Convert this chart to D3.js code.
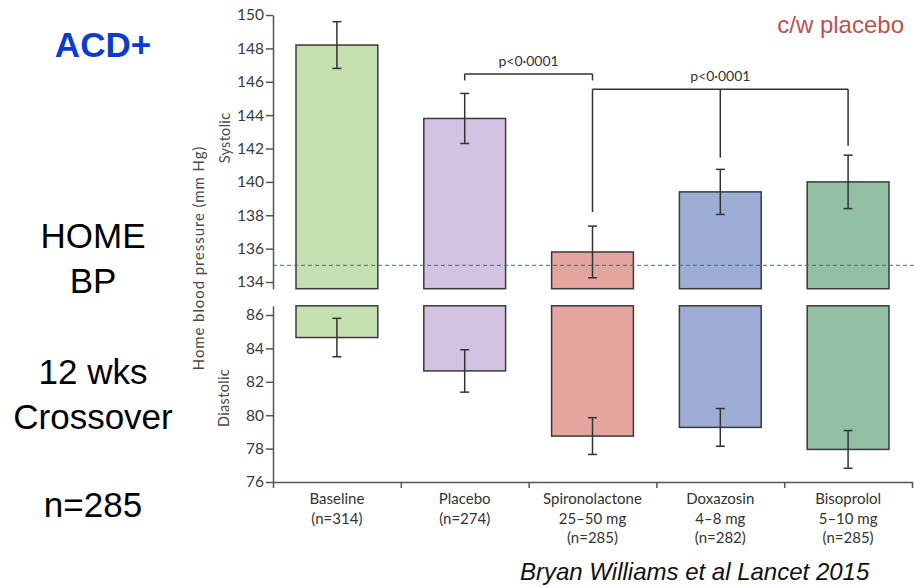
<!DOCTYPE html>
<html>
<head>
<meta charset="utf-8">
<script src="https://cdn.jsdelivr.net/npm/d3@7"></script>
<style>
  body { margin:0; background:#fff; }
  svg { display:block; }
  .axis path, .axis line { stroke:#555; stroke-width:1.5; }
  .axis text { font-family:Lato, sans-serif; font-size:15.5px; fill:#3a3a3a; }
</style>
</head>
<body>
<div id="chart"></div>
<script>
const categories = ["Baseline","Placebo","Spironolactone","Doxazosin","Bisoprolol"];
const catLabels = [
  ["Baseline","(n=314)"],
  ["Placebo","(n=274)"],
  ["Spironolactone","25–50 mg","(n=285)"],
  ["Doxazosin","4–8 mg","(n=282)"],
  ["Bisoprolol","5–10 mg","(n=285)"]
];
const systolic     = [148.2, 143.8, 135.8, 139.4, 140.0];
const systolicErr  = [1.4, 1.5, 1.55, 1.35, 1.6];
const diastolic    = [84.65, 82.65, 78.75, 79.27, 77.95];
const diastolicErr = [1.15, 1.27, 1.1, 1.13, 1.13];
const systolicTicks  = [134,136,138,140,142,144,146,148,150];
const diastolicTicks = [76,78,80,82,84,86];
const targetLine = 135;
const barColors = ["#c6dfb1","#d3c2e2","#e3a59d","#9dadd6","#93c0a5"];
// brackets: legs at categories, horizontal level and leg ends in mmHg (systolic)
const brackets = [
  {label:"p<0·0001", legs:["Placebo","Spironolactone"], level:146.47, ends:[146.08,146.08], labelAt:null},
  {label:"p<0·0001", legs:["Spironolactone","Doxazosin","Bisoprolol"], level:145.55, ends:[138.2,141.45,142.17], labelAt:"Doxazosin"}
];
const sideNotes = [
  {text:"HOME", y:248}, {text:"BP", y:293},
  {text:"12 wks", y:384}, {text:"Crossover", y:429},
  {text:"n=285", y:517}
];

const W = 914, H = 587;
const svg = d3.select("#chart").append("svg")
  .attr("width",W).attr("height",H);

const x = d3.scaleBand().domain(categories).range([273,912])
  .paddingInner(0.36).paddingOuter(0.18);
const xEdges = d3.scaleLinear().domain([0,categories.length]).range([273,912]);
const ySys = d3.scaleLinear().domain([133.6,150]).range([288.7,15]);
const yDia = d3.scaleLinear().domain([76,86.55]).range([482,305.8]);
const cx = c => x(c) + x.bandwidth()/2;

// axes
svg.append("g").attr("class","axis")
  .attr("transform","translate(273,0)")
  .call(d3.axisLeft(ySys).tickValues(systolicTicks).tickSize(7).tickSizeOuter(0).tickPadding(2));
svg.append("g").attr("class","axis")
  .attr("transform","translate(273,0)")
  .call(d3.axisLeft(yDia).tickValues(diastolicTicks).tickSize(7).tickSizeOuter(0).tickPadding(2));
svg.append("g").attr("class","axis")
  .attr("transform","translate(0,482)")
  .call(d3.axisBottom(xEdges).ticks(categories.length).tickSize(6).tickSizeOuter(0).tickFormat(""));

// category labels
const cl = svg.append("g").selectAll("text").data(categories).join("text")
  .attr("x",d=>cx(d)).attr("y",504)
  .attr("text-anchor","middle")
  .style("font-family","Lato, sans-serif").style("font-size","15px").style("fill","#333");
cl.each(function(d,i){
  d3.select(this).selectAll("tspan").data(catLabels[i]).join("tspan")
    .attr("x",cx(d)).attr("dy",(t,j)=>j===0?0:19.5).text(t=>t);
});

// systolic bars
svg.append("g").selectAll("rect").data(categories).join("rect")
  .attr("x",d=>x(d)).attr("width",x.bandwidth())
  .attr("y",(d,i)=>ySys(systolic[i]))
  .attr("height",(d,i)=>ySys.range()[0]-ySys(systolic[i]))
  .attr("fill",(d,i)=>barColors[i]).attr("stroke","#3a3a3a").attr("stroke-width",1.5);

// diastolic bars (hanging from top of lower panel)
svg.append("g").selectAll("rect").data(categories).join("rect")
  .attr("x",d=>x(d)).attr("width",x.bandwidth())
  .attr("y",yDia.range()[1])
  .attr("height",(d,i)=>yDia(diastolic[i])-yDia.range()[1])
  .attr("fill",(d,i)=>barColors[i]).attr("stroke","#3a3a3a").attr("stroke-width",1.5);

// target line
svg.append("line")
  .attr("x1",273).attr("x2",W)
  .attr("y1",ySys(targetLine)).attr("y2",ySys(targetLine))
  .attr("stroke","#3f7373").attr("stroke-width",1).attr("stroke-dasharray","4,3");

// error bars
function errorBars(vals, errs, y){
  const g = svg.append("g").attr("stroke","#333").attr("stroke-width",1.5);
  categories.forEach((c,i)=>{
    const hi = y(vals[i]+errs[i]), lo = y(vals[i]-errs[i]), xc = cx(c);
    g.append("line").attr("x1",xc).attr("x2",xc).attr("y1",hi).attr("y2",lo);
    g.append("line").attr("x1",xc-4.5).attr("x2",xc+4.5).attr("y1",hi).attr("y2",hi);
    g.append("line").attr("x1",xc-4.5).attr("x2",xc+4.5).attr("y1",lo).attr("y2",lo);
  });
}
errorBars(systolic, systolicErr, ySys);
errorBars(diastolic, diastolicErr, yDia);

// significance brackets
brackets.forEach(b=>{
  const g = svg.append("g").attr("stroke","#333").attr("stroke-width",1.5).attr("fill","none");
  const xs = b.legs.map(cx);
  g.append("line").attr("x1",d3.min(xs)).attr("x2",d3.max(xs))
    .attr("y1",ySys(b.level)).attr("y2",ySys(b.level));
  xs.forEach((xv,j)=>{
    g.append("line").attr("x1",xv).attr("x2",xv)
      .attr("y1",ySys(b.level)).attr("y2",ySys(b.ends[j]));
  });
  const tx = b.labelAt ? cx(b.labelAt) : (d3.min(xs)+d3.max(xs))/2;
  svg.append("text").attr("x",tx).attr("y",ySys(b.level)-8)
    .attr("text-anchor","middle")
    .style("font-family","Lato, sans-serif").style("font-size","14px").style("fill","#333")
    .text(b.label);
});

// axis titles
const axisTitle = (txt, xx, yy, size, ls) => svg.append("text")
  .attr("transform",`translate(${xx},${yy})rotate(-90)`)
  .attr("text-anchor","middle")
  .style("font-family","Lato, sans-serif").style("font-size",size).style("fill","#4a4a4a")
  .style("letter-spacing",ls)
  .text(txt);
axisTitle("Systolic", 230, 138, "14.5px", "0.3px");
axisTitle("Diastolic", 229, 398, "14.5px", "0.3px");
axisTitle("Home blood pressure (mm Hg)", 204, 258, "15px", "0.9px");

// side annotations
svg.append("text").attr("x",103).attr("y",57).attr("text-anchor","middle")
  .style("font-family","'Liberation Sans', Arial, sans-serif").style("font-size","35px")
  .style("font-weight","bold").style("fill","#0a3dcc").text("ACD+");
svg.append("g").selectAll("text").data(sideNotes).join("text")
  .attr("x",93).attr("y",d=>d.y).attr("text-anchor","middle")
  .style("font-family","'Liberation Sans', Arial, sans-serif").style("font-size","35px")
  .style("fill","#000").text(d=>d.text);
svg.append("text").attr("x",904).attr("y",33).attr("text-anchor","end")
  .style("font-family","'Liberation Sans', Arial, sans-serif").style("font-size","24px")
  .style("fill","#c0504d").text("c/w placebo");
svg.append("text").attr("x",520).attr("y",580)
  .style("font-family","'Liberation Sans', Arial, sans-serif").style("font-size","24px")
  .style("font-style","italic").style("fill","#111").text("Bryan Williams et al Lancet 2015");
</script>
</body>
</html>
